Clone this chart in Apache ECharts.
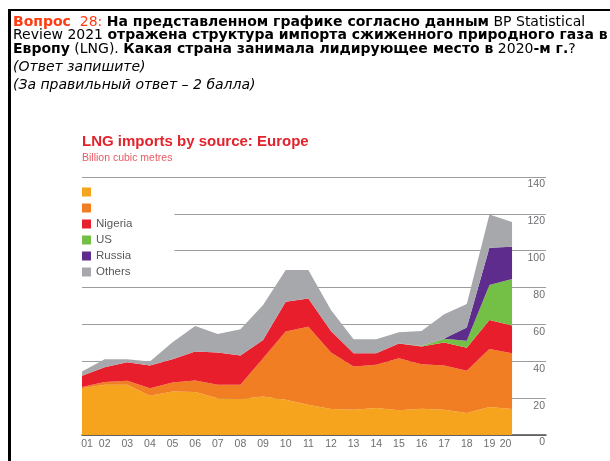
<!DOCTYPE html>
<html>
<head>
<meta charset="utf-8">
<script src="https://cdn.jsdelivr.net/npm/echarts@6/dist/echarts.min.js"></script>
<style>
  html, body { margin: 0; padding: 0; background: #fff; }
  #wrap { position: relative; width: 610px; height: 461px; overflow: hidden; }
  #box {
    position: absolute; left: 8px; top: 9px; width: 620px; height: 460px;
    border-top: 2px solid #000; border-left: 3px solid #000; z-index: 2;
  }
  .ln {
    position: absolute; left: 2px; white-space: nowrap;
    font-family: "DejaVu Sans", sans-serif; font-size: 14px; line-height: 14px; color: #000;
  }
  .red { color: #ff3b12; }
  #chart { position: absolute; left: 0; top: 0; width: 610px; height: 461px; z-index: 1; }
</style>
</head>
<body>
<div id="wrap">
  <div id="box">
    <div class="ln" style="top:3px"><span class="red"><b>Вопрос</b>&nbsp; 28:</span> <b>На представленном графике согласно данным</b> BP Statistical</div>
    <div class="ln" style="top:16px">Review 2021 <b>отражена структура импорта сжиженного природного газа в</b></div>
    <div class="ln" style="top:30px"><b>Европу</b> (LNG). <b>Какая страна занимала лидирующее место в</b> 2020<b>-м г.</b>?</div>
    <div class="ln" style="top:48px"><i>(Ответ запишите)</i></div>
    <div class="ln" style="top:66px"><i>(За правильный ответ – 2 балла)</i></div>
  </div>
  <div id="chart"></div>
</div>
<script>
// years 2001-2020
var years = ['01','02','03','04','05','06','07','08','09','10','11','12','13','14','15','16','17','18','19','20'];
// bottom two layers have no label in the picture
var algeria = [25.4,27.2,27.2,21.3,23.6,23.3,20.0,19.5,20.9,19.1,16.4,14.1,13.7,14.6,13.4,14.3,13.7,11.9,15.2,14.1];
var qatar   = [0.6,1.5,2.2,4.1,4.9,6.3,7.2,7.7,20.8,37.0,42.4,30.6,23.5,23.5,28.3,24.1,24.0,22.9,31.5,30.3];
var nigeria = [6.1,8.1,10.1,12.3,12.6,15.7,17.5,15.9,9.9,16.2,15.3,11.8,7.2,6.3,7.9,9.6,12.5,12.6,15.7,15.0];
var us      = [0,0,0,0,0,0,0,0,0,0,0,0,0,0,0,0.3,2.0,3.8,19.0,25.2];
var russia  = [0,0,0,0,0,0,0,0,0,0,0,0,0,0,0,0,0.2,7.1,20.2,17.5];
var others  = [2.4,4.3,1.6,2.2,9.2,13.9,10.1,14.3,18.9,17.2,15.4,11.3,7.6,7.6,6.1,8.2,13.1,12.8,18.0,13.5];
var yTicks = [0,20,40,60,80,100,120,140];

var layers = [
  { name: 'Algeria', data: algeria, color: '#f6a31d', hide: true },
  { name: 'Qatar', data: qatar, color: '#f17e22', hide: true },
  { name: 'Nigeria', data: nigeria, color: '#e91e2d' },
  { name: 'US', data: us, color: '#74bf45' },
  { name: 'Russia', data: russia, color: '#5e2c8d' },
  { name: 'Others', data: others, color: '#a7a8ab' }
];

var myChart = echarts.init(document.getElementById('chart'));

var option = {
  animation: false,
  title: {
    text: 'LNG imports by source: Europe',
    subtext: 'Billion cubic metres',
    left: 82,
    top: 134,
    padding: 0,
    itemGap: 4,
    textStyle: { fontFamily: 'Arial', fontSize: 15, fontWeight: 'bold', color: '#e3232c' },
    subtextStyle: { fontFamily: 'Arial', fontSize: 10.5, color: '#ea5a63' }
  },
  legend: {
    orient: 'vertical',
    left: 82,
    top: 183,
    padding: [3, 42, 3, 0],
    backgroundColor: '#fff',
    icon: 'rect',
    itemWidth: 9,
    itemHeight: 9,
    itemGap: 4,
    data: layers.map(function (l) { return l.name; }),
    formatter: function (name) {
      var l = layers.find(function (x) { return x.name === name; });
      return l.hide ? ' ' : name;
    },
    textStyle: { fontFamily: 'Arial', fontSize: 11.5, color: '#58595b', lineHeight: 12 }
  },
  grid: { left: 82, right: 64, top: 177, bottom: 26 },
  xAxis: {
    type: 'value',
    min: 1,
    max: 21.5,
    interval: 1,
    axisLine: { show: true, onZero: false, lineStyle: { color: '#4d4d4f', width: 1.5 } },
    axisTick: { show: false },
    splitLine: { show: false },
    axisLabel: {
      margin: 4,
      showMaxLabel: false,
      fontFamily: 'Arial', fontSize: 10.5, color: '#6d6e71',
      formatter: function (v) {
        if (v === 1) return '{f|' + years[0] + '}';
        if (v === years.length) return '{l|' + years[years.length - 1] + '}';
        if (v % 1 === 0 && v >= 1 && v <= years.length) return years[v - 1];
        return '';
      },
      rich: {
        f: { fontFamily: 'Arial', fontSize: 10.5, color: '#6d6e71', padding: [0, 0, 0, 10] },
        l: { fontFamily: 'Arial', fontSize: 10.5, color: '#6d6e71', padding: [0, 13, 0, 0] }
      }
    }
  },
  yAxis: {
    type: 'value',
    position: 'right',
    min: yTicks[0],
    max: yTicks[yTicks.length - 1],
    interval: 20,
    axisLine: { show: false },
    axisTick: { show: false },
    splitLine: { show: true, lineStyle: { color: '#9c9c9e', width: 1 } },
    axisLabel: {
      inside: true,
      margin: 1,
      verticalAlign: 'top',
      padding: [2, 0, 0, 0],
      fontFamily: 'Arial', fontSize: 10.5, color: '#6d6e71'
    }
  },
  series: layers.map(function (l) {
    return {
      name: l.name,
      type: 'line',
      stack: 'total',
      symbol: 'none',
      lineStyle: { width: 0 },
      itemStyle: { color: l.color },
      areaStyle: { color: l.color, opacity: 1 },
      // value first so the stack is done on the y values
      encode: { x: 1, y: 0 },
      data: l.data.map(function (v, i) { return [v, i + 1]; })
    };
  })
};

myChart.setOption(option);
</script>
</body>
</html>
